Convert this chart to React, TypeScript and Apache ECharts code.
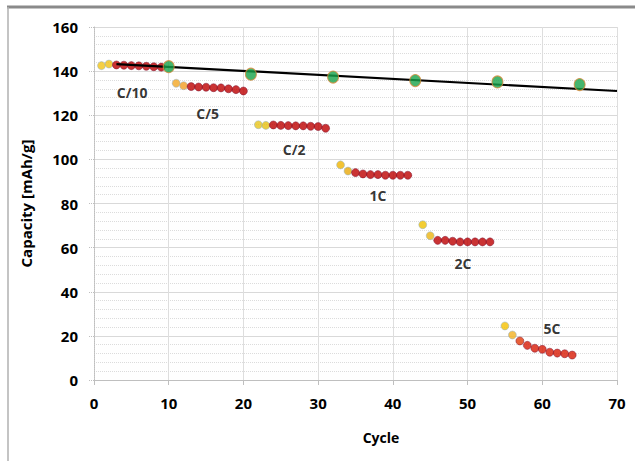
import React, { useEffect, useRef } from "react";
import * as echarts from "echarts";

const c10Cycles = [1, 2, 3, 4, 5, 6, 7, 8, 9];
const c10Cap = [142.5, 143.2, 142.8, 142.7, 142.5, 142.4, 142.2, 142.0, 141.8];
const c5Cycles = [11, 12, 13, 14, 15, 16, 17, 18, 19, 20];
const c5Cap = [134.5, 133.4, 133.0, 132.8, 132.7, 132.5, 132.4, 132.0, 131.6, 131.0];
const c2Cycles = [22, 23, 24, 25, 26, 27, 28, 29, 30, 31];
const c2Cap = [115.7, 115.4, 115.6, 115.4, 115.3, 115.2, 115.2, 115.0, 114.9, 114.1];
const oneCCycles = [33, 34, 35, 36, 37, 38, 39, 40, 41, 42];
const oneCCap = [97.5, 94.7, 94.0, 93.4, 93.1, 93.1, 92.8, 92.8, 92.8, 92.8];
const twoCCycles = [44, 45, 46, 47, 48, 49, 50, 51, 52, 53];
const twoCCap = [70.4, 65.4, 63.3, 63.3, 62.9, 62.6, 62.6, 62.6, 62.6, 62.6];
const fiveCCycles = [55, 56, 57, 58, 59, 60, 61, 62, 63, 64];
const fiveCCap = [24.5, 20.4, 17.7, 15.7, 14.4, 13.9, 12.6, 12.2, 11.9, 11.3];
const checkCycles = [10, 21, 32, 43, 54, 65];
const checkCap = [142.0, 138.6, 137.3, 135.7, 135.1, 133.9];
const trendCycles = [3, 70];
const trendCap = [143.2, 131.0];
const rateLabels = ["C/10", "C/5", "C/2", "1C", "2C", "5C"];
const rateLabelX = [5.1, 15.2, 26.8, 38.0, 49.4, 61.3];
const rateLabelY = [130.3, 121.0, 104.3, 83.4, 53.0, 23.3];

const xTicks = { min: 0, max: 70, interval: 10 };
const yTicks = { min: 0, max: 160, interval: 20 };

// styles (kept separate from data)
const RED = "#bd0000";
const groupPalettes: string[][] = [
  ["#f2c314", "#f0c010", RED],
  ["#f2a623", "#f39c22", RED],
  ["#e8c41a", "#e6bf10", RED],
  ["#f0b400", "#e9a90a", RED],
  ["#f0c000", "#ecb410", RED],
  ["#f5c000", "#f2b020", "#e23a08", "#d81a05"],
];

const FONT = "'Open Sans', sans-serif";

function groupSeries(cycles: number[], caps: number[], palette: string[]) {
  return {
    type: "scatter",
    symbol: "circle",
    symbolSize: 8,
    z: 3,
    data: cycles.map((c, i) => {
      const col = palette[Math.min(i, palette.length - 1)];
      return {
        value: [c, caps[i]],
        itemStyle: {
          color: col,
          borderColor: i < 2 ? "#8fb0cc" : "#7a1030",
          borderWidth: 0.6,
        },
      };
    }),
  };
}

export default function App() {
  const ref = useRef<HTMLDivElement>(null);
  useEffect(() => {
    document.body.style.margin = "0";
    const chart = echarts.init(ref.current!, null, { renderer: "svg" });
    const groups = [
      [c10Cycles, c10Cap],
      [c5Cycles, c5Cap],
      [c2Cycles, c2Cap],
      [oneCCycles, oneCCap],
      [twoCCycles, twoCCap],
      [fiveCCycles, fiveCCap],
    ];
    const series: any[] = groups.map((g, i) => groupSeries(g[0], g[1], groupPalettes[i]));
    series.push({
      type: "line",
      data: trendCycles.map((c, i) => [c, trendCap[i]]),
      symbol: "none",
      lineStyle: { color: "#000", width: 2.2 },
      z: 4,
    });
    series.push({
      type: "scatter",
      symbol: "circle",
      symbolSize: [11, 12],
      z: 5,
      data: checkCycles.map((c, i) => [c, checkCap[i]]),
      itemStyle: { color: "#17a24a", borderColor: "#d48a3a", borderWidth: 1 },
    });
    series.push({
      type: "scatter",
      symbolSize: 0,
      z: 6,
      silent: true,
      data: rateLabels.map((t, i) => ({ value: [rateLabelX[i], rateLabelY[i]], name: t })),
      label: {
        show: true,
        position: "inside",
        formatter: (p: any) => p.name,
        fontFamily: FONT,
        fontWeight: "bold",
        fontSize: 14,
        color: "#000",
      },
    });

    chart.setOption({
      animation: false,
      backgroundColor: "#fff",
      grid: { left: 94, top: 27, right: 18, bottom: 81 },
      xAxis: {
        type: "value",
        min: xTicks.min,
        max: xTicks.max,
        interval: xTicks.interval,
        axisLine: { show: true, onZero: false, lineStyle: { color: "#bfbfbf", width: 1 } },
        axisTick: { show: true, length: 5, lineStyle: { color: "#bfbfbf" } },
        splitLine: { show: true, lineStyle: { color: "#dedede", width: 1 } },
        axisLabel: {
          fontFamily: FONT,
          fontWeight: "bold",
          fontSize: 15,
          color: "#000",
          margin: 15,
        },
      },
      yAxis: {
        type: "value",
        min: yTicks.min,
        max: yTicks.max,
        interval: yTicks.interval,
        name: "Capacity [mAh/g]",
        nameLocation: "middle",
        nameRotate: 90,
        nameGap: 61,
        nameTextStyle: { fontFamily: FONT, fontWeight: "bold", fontSize: 15, color: "#000" },
        axisLine: { show: true, lineStyle: { color: "#bfbfbf", width: 1, type: "dotted" } },
        axisTick: { show: true, length: 5, lineStyle: { color: "#bfbfbf", type: "dotted" } },
        splitLine: { show: true, lineStyle: { color: "#d9d9d9", width: 1 } },
        minorTick: { show: false, splitNumber: 5 },
        minorSplitLine: { show: true, lineStyle: { color: "#dcdcdc", width: 1, type: "dotted" } },
        axisLabel: {
          fontFamily: FONT,
          fontWeight: "bold",
          fontSize: 15,
          color: "#000",
          margin: 16,
        },
      },
      graphic: [
        {
          type: "line",
          shape: { x1: 7, y1: 7, x2: 635, y2: 7 },
          style: { stroke: "#8a8a8a", lineWidth: 3 },
        },
        {
          type: "line",
          shape: { x1: 8, y1: 7, x2: 8, y2: 461 },
          style: { stroke: "#b0b0b0", lineWidth: 1.5 },
        },
        {
          type: "text",
          x: 381,
          y: 437,
          style: {
            text: "Cycle",
            fontFamily: FONT,
            fontWeight: "bold",
            fontSize: 14,
            fill: "#000",
            align: "center",
            verticalAlign: "middle",
          },
        },
      ],
      series,
    });
    return () => chart.dispose();
  }, []);
  return <div ref={ref} style={{ width: 635, height: 461 }} />;
}
